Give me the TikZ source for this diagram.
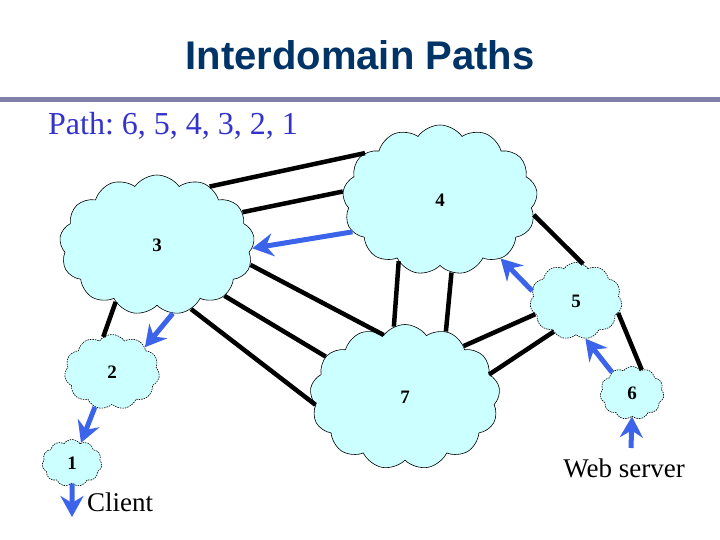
\documentclass[tikz,border=0pt]{standalone}
\usepackage{fontspec}
\setmainfont{Liberation Serif}
\setsansfont{Liberation Sans}
\usetikzlibrary{shapes.symbols,arrows.meta}
\definecolor{titleblue}{RGB}{0,51,102}
\definecolor{rulegray}{RGB}{128,128,168}
\definecolor{pathblue}{RGB}{51,51,204}
\definecolor{routeblue}{RGB}{60,100,235}
\definecolor{cloudfill}{RGB}{204,255,255}

\begin{document}
\begin{tikzpicture}[x=1pt,y=-1pt]
    \tikzstyle{transit}=[
        cloud,
        cloud puffs = 13,
        cloud puff arc = 110,
        cloud ignores aspect,
        draw = black,
        line width = 0.6pt,
        fill = cloudfill,
        inner sep = 0pt,
        font = \fontsize{19}{19}\selectfont\bfseries
    ]
    \tikzstyle{stub}=[
        transit,
        cloud puffs = 11,
        dash pattern = on 1.5pt off 1pt
    ]
    \tikzstyle{link}=[-, line width = 4.5pt, black]
    \tikzstyle{route}=[-{Stealth[length=21pt,width=23pt,inset=7pt]}, line width = 5pt, routeblue]

    \useasboundingbox (0,0) rectangle (720,540);

    \node[font=\sffamily\bfseries\fontsize{40}{40}\selectfont, text=titleblue] (title) at (360,55) {Interdomain Paths};
    \fill[rulegray] (0,97) rectangle (720,102);
    \node[anchor=base west, inner sep=0pt, text=pathblue, font=\fontsize{32}{32}\selectfont] (path) at (48,135) {Path:~6, 5, 4, 3, 2, 1};

    \node[transit, minimum width=195pt, minimum height=140pt] (c3) at (157,245) {3};
    \node[transit, minimum width=195pt, minimum height=150pt] (c4) at (440,200) {4};
    \node[transit, minimum width=190pt, minimum height=145pt] (c7) at (405,397) {7};
    \node[stub, minimum width=92pt, minimum height=77pt] (c5) at (576,301) {5};
    \node[stub, minimum width=95pt, minimum height=75pt] (c2) at (112,372) {2};
    \node[stub, minimum width=64pt, minimum height=53pt] (c6) at (632,393) {6};
    \node[stub, minimum width=60pt, minimum height=47pt] (c1) at (72,463) {1};

    \node[anchor=base west, inner sep=0pt, font=\fontsize{27}{27}\selectfont] (client) at (87,511) {Client};
    \node[anchor=base, inner sep=0pt, font=\fontsize{27}{27}\selectfont] (web) at (624,477) {Web server};
    \coordinate (cl) at (72,517);
    \coordinate (ws) at (631,448);

    \path[link] (c3.48) edge (c4.148);
    \path[link] (c3.21) edge (c4.175);
    \path[link] (c3.348) edge (c7.109);
    \path[link] (c3.323) edge (c7.153);
    \path[link] (c3.298) edge (c7.185);
    \path[link] (c3.234) edge (c2.104);
    \path[link] (c4.351) edge (c5.79);
    \path[link] (c5.344) edge (c6.67);
    \path[link] (c4.236) edge (c7.99);
    \path[link] (c4.279) edge (c7.58);
    \path[link] (c7.41) edge (c5.198);
    \path[link] (c7.15) edge (c5.234);

    \path[route] (ws) edge (c6.270);
    \path[route] (c6.134) edge (c5.284);
    \path[route] (c5.167) edge (c4.316);
    \path[route] (c4.200) edge (c3.358);
    \path[route] (c3.283) edge (c2.37);
    \path[route] (c2.244) edge (c1.66);
    \path[route] (c1.270) edge (cl);

\end{tikzpicture}
\end{document}
